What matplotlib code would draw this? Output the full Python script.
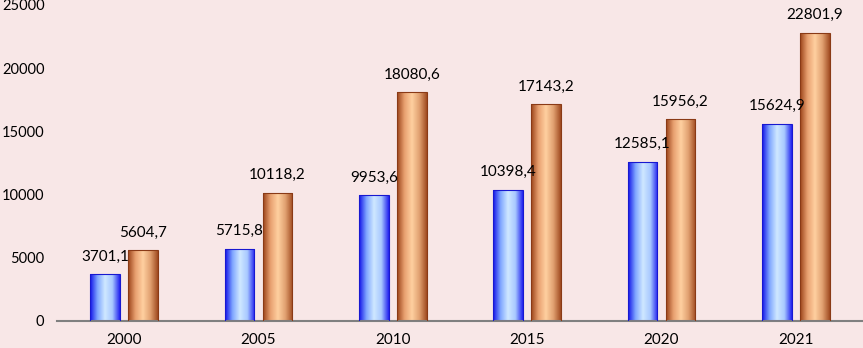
import numpy as np
import matplotlib.pyplot as plt
from matplotlib.colors import LinearSegmentedColormap

years = ['2000', '2005', '2010', '2015', '2020', '2021']
series_a = [3701.1, 5715.8, 9953.6, 10398.4, 12585.1, 15624.9]
series_b = [5604.7, 10118.2, 18080.6, 17143.2, 15956.2, 22801.9]

plt.rcParams['font.family'] = ['Lato', 'DejaVu Sans']
bg = '#f8e7e7'

fig = plt.figure(figsize=(8.63, 3.48), dpi=100, facecolor=bg)
ax = fig.add_axes([57 / 863, 1 - 321 / 348, 1 - 57 / 863, 316 / 348])
ax.set_facecolor(bg)

x = np.arange(len(years))
w = 0.22
off = 0.142
bars_a = ax.bar(x - off, series_a, w, color='#8fb4ff')
bars_b = ax.bar(x + off, series_b, w, color='#e8a070')

blue = LinearSegmentedColormap.from_list('b', ['#1010e8', '#7fa6ff', '#cfe8ff', '#a8c8ff', '#2020f0'])
brown = LinearSegmentedColormap.from_list('o', ['#9a4218', '#e8a070', '#ffd0a0', '#e0a070', '#a04a20'])
grad = np.linspace(0, 1, 256).reshape(1, -1)
for bars, cmap, ec in [(bars_a, blue, '#1818d0'), (bars_b, brown, '#8a3a16')]:
    for p in bars:
        x0, y0 = p.get_x(), p.get_y()
        im = ax.imshow(grad, cmap=cmap, aspect='auto', zorder=2,
                       extent=[x0, x0 + p.get_width(), y0, y0 + p.get_height()])
        im.set_clip_path(p)
        p.set_facecolor('none')
        p.set_edgecolor(ec)
        p.set_linewidth(0.8)
        p.set_zorder(3)

for i in range(len(years)):
    ax.text(x[i] - off, series_a[i] + 850, f'{series_a[i]:.1f}'.replace('.', ','),
            ha='center', va='bottom', fontsize=11)
    ax.text(x[i] + off, series_b[i] + 850, f'{series_b[i]:.1f}'.replace('.', ','),
            ha='center', va='bottom', fontsize=11)

ax.set_xlim(-0.5, len(years) - 0.5)
ax.set_ylim(0, 25000)
ax.set_xticks(x)
ax.set_xticklabels(years)
ax.set_yticks(range(0, 25001, 5000))
ax.tick_params(length=0, labelsize=11, pad=9)
ax.tick_params(axis='y', labelsize=10.5, pad=9)
for s in ['top', 'right', 'left']:
    ax.spines[s].set_visible(False)
ax.spines['bottom'].set_color('#808080')
ax.spines['bottom'].set_linewidth(1.5)

fig.savefig('out.png', dpi=100, facecolor=bg)
